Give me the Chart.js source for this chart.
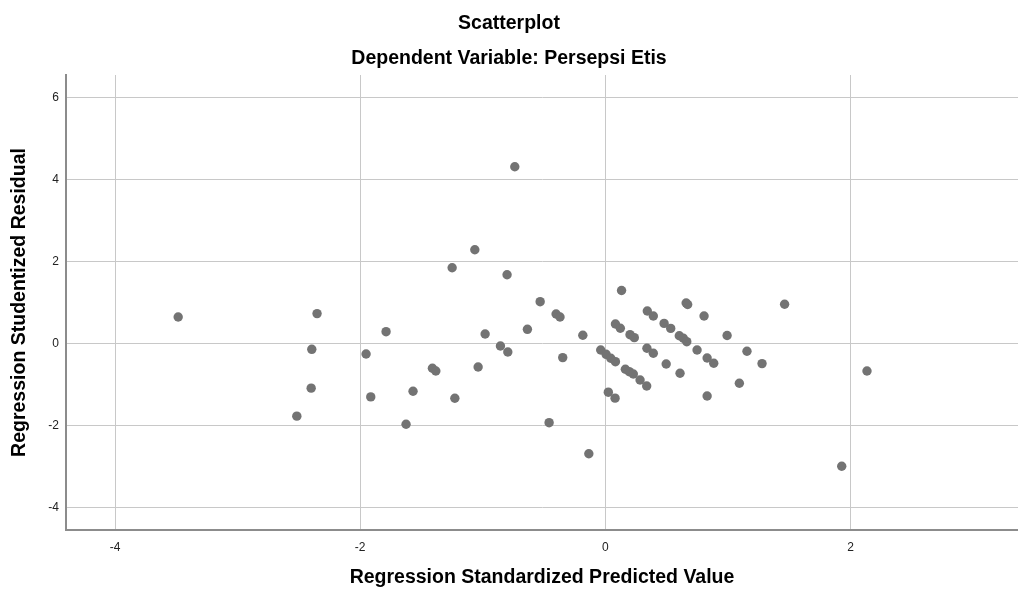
<!DOCTYPE html>
<html>
<head>
<meta charset="utf-8">
<script src="https://cdn.jsdelivr.net/npm/chart.js@4.4.1/dist/chart.umd.min.js"></script>
<style>
  html, body { margin: 0; padding: 0; background: #ffffff; }
  #wrap { width: 1018px; height: 592px; }
</style>
</head>
<body>
<div id="wrap"><canvas id="c" width="1018" height="592"></canvas></div>
<script>
// Regression Standardized Predicted Value
const predictedValues = [
  -3.485, -2.517, -2.400, -2.395, -2.352, -1.952, -1.914, -1.789, -1.626, -1.569,
  -1.411, -1.383, -1.250, -1.228, -1.065, -1.038, -0.981, -0.856, -0.802, -0.796,
  -0.739, -0.636, -0.532, -0.459, -0.402, -0.370, -0.348, -0.184, -0.135, -0.038,
   0.006,  0.044,  0.082,  0.024,  0.079,  0.082,  0.122,  0.132,  0.163,  0.195,
   0.228,  0.201,  0.236,  0.283,  0.337,  0.342,  0.391,  0.339,  0.391,  0.479,
   0.533,  0.496,  0.603,  0.636,  0.664,  0.609,  0.659,  0.671,  0.748,  0.805,
   0.830,  0.884,  0.830,  0.993,  1.093,  1.155,  1.278,  1.462,  1.928,  2.134
];
// Regression Studentized Residual
const residualValues = [
   0.646, -1.773, -1.090, -0.142,  0.729, -0.256, -1.303,  0.288, -1.971, -1.166,
  -0.605, -0.671,  1.849, -1.337,  2.288, -0.573,  0.232, -0.061,  1.678, -0.207,
   4.312,  0.346,  1.020, -1.932,  0.720,  0.646, -0.344,  0.200, -2.690, -0.159,
  -0.264, -0.361, -0.444, -1.188, -1.334,  0.476,  0.371,  1.293, -0.629, -0.688,
  -0.744,  0.215,  0.142, -0.890, -1.037,  0.793,  0.671, -0.117, -0.239,  0.490,
   0.368, -0.500,  0.190,  0.127,  0.044, -0.727,  0.988,  0.951, -0.159,  0.671,
  -0.354, -0.483, -1.280,  0.195, -0.971, -0.190, -0.490,  0.958, -2.995, -0.671
];
const xTickValues = [-4, -2, 0, 2];
const yTickValues = [-4, -2, 0, 2, 4, 6];
const xRange = [-4.40, 3.366];
const yRange = [-4.55, 6.55];

const chartTitle = 'Scatterplot';
const chartSubtitle = 'Dependent Variable: Persepsi Etis';
const xTitle = 'Regression Standardized Predicted Value';
const yTitle = 'Regression Studentized Residual';

const FONT = "'Liberation Sans', Arial, Helvetica, sans-serif";

const points = predictedValues.map((x, i) => ({ x: x, y: residualValues[i] }));

const bgPlugin = {
  id: 'bg',
  beforeDraw(chart) {
    const ctx = chart.ctx;
    ctx.save();
    ctx.fillStyle = '#ffffff';
    ctx.fillRect(0, 0, chart.width, chart.height);
    ctx.restore();
  }
};

new Chart(document.getElementById('c'), {
  type: 'scatter',
  data: {
    datasets: [{
      data: points,
      backgroundColor: '#737373',
      borderWidth: 0,
      pointRadius: 4.7,
      pointHoverRadius: 4.7
    }]
  },
  plugins: [bgPlugin],
  options: {
    responsive: false,
    animation: false,
    devicePixelRatio: 1,
    layout: { padding: 0, autoPadding: false },
    plugins: {
      legend: { display: false },
      tooltip: { enabled: false },
      title: {
        display: true,
        text: chartTitle,
        color: '#000000',
        font: { family: FONT, size: 19.5, weight: 'bold', lineHeight: 1.2 },
        padding: { top: 11.5, bottom: 0 }
      },
      subtitle: {
        display: true,
        text: chartSubtitle,
        color: '#000000',
        font: { family: FONT, size: 19.5, weight: 'bold', lineHeight: 1.2 },
        padding: { top: 12.5, bottom: 4.2 }
      }
    },
    scales: {
      x: {
        type: 'linear',
        position: 'bottom',
        min: xRange[0],
        max: xRange[1],
        afterBuildTicks: (s) => { s.ticks = xTickValues.map(v => ({ value: v })); },
        afterFit: (s) => { s.height = 62; s.paddingLeft = 0; s.paddingRight = 0; },
        grid: { color: '#c8c8c8', lineWidth: 1, drawTicks: false },
        border: { display: true, color: '#8c8c8c', width: 2 },
        ticks: {
          color: '#222222',
          padding: 10,
          font: { family: FONT, size: 12 },
          callback: (v) => String(v)
        },
        title: {
          display: true,
          text: xTitle,
          color: '#000000',
          font: { family: FONT, size: 19.5, weight: 'bold', lineHeight: 1.2 },
          padding: { top: 0, bottom: 3 }
        }
      },
      y: {
        type: 'linear',
        position: 'left',
        min: yRange[0],
        max: yRange[1],
        afterBuildTicks: (s) => { s.ticks = yTickValues.map(v => ({ value: v })); },
        afterFit: (s) => { s.width = 66; s.paddingTop = 0; s.paddingBottom = 0; },
        grid: { color: '#c8c8c8', lineWidth: 1, drawTicks: false },
        border: { display: true, color: '#8c8c8c', width: 2 },
        ticks: {
          color: '#222222',
          padding: 7,
          font: { family: FONT, size: 12 },
          callback: (v) => String(v)
        },
        title: {
          display: true,
          text: yTitle,
          color: '#000000',
          font: { family: FONT, size: 19.5, weight: 'bold', lineHeight: 1.2 },
          padding: { top: 7.5, bottom: 0 }
        }
      }
    }
  }
});
</script>
</body>
</html>
